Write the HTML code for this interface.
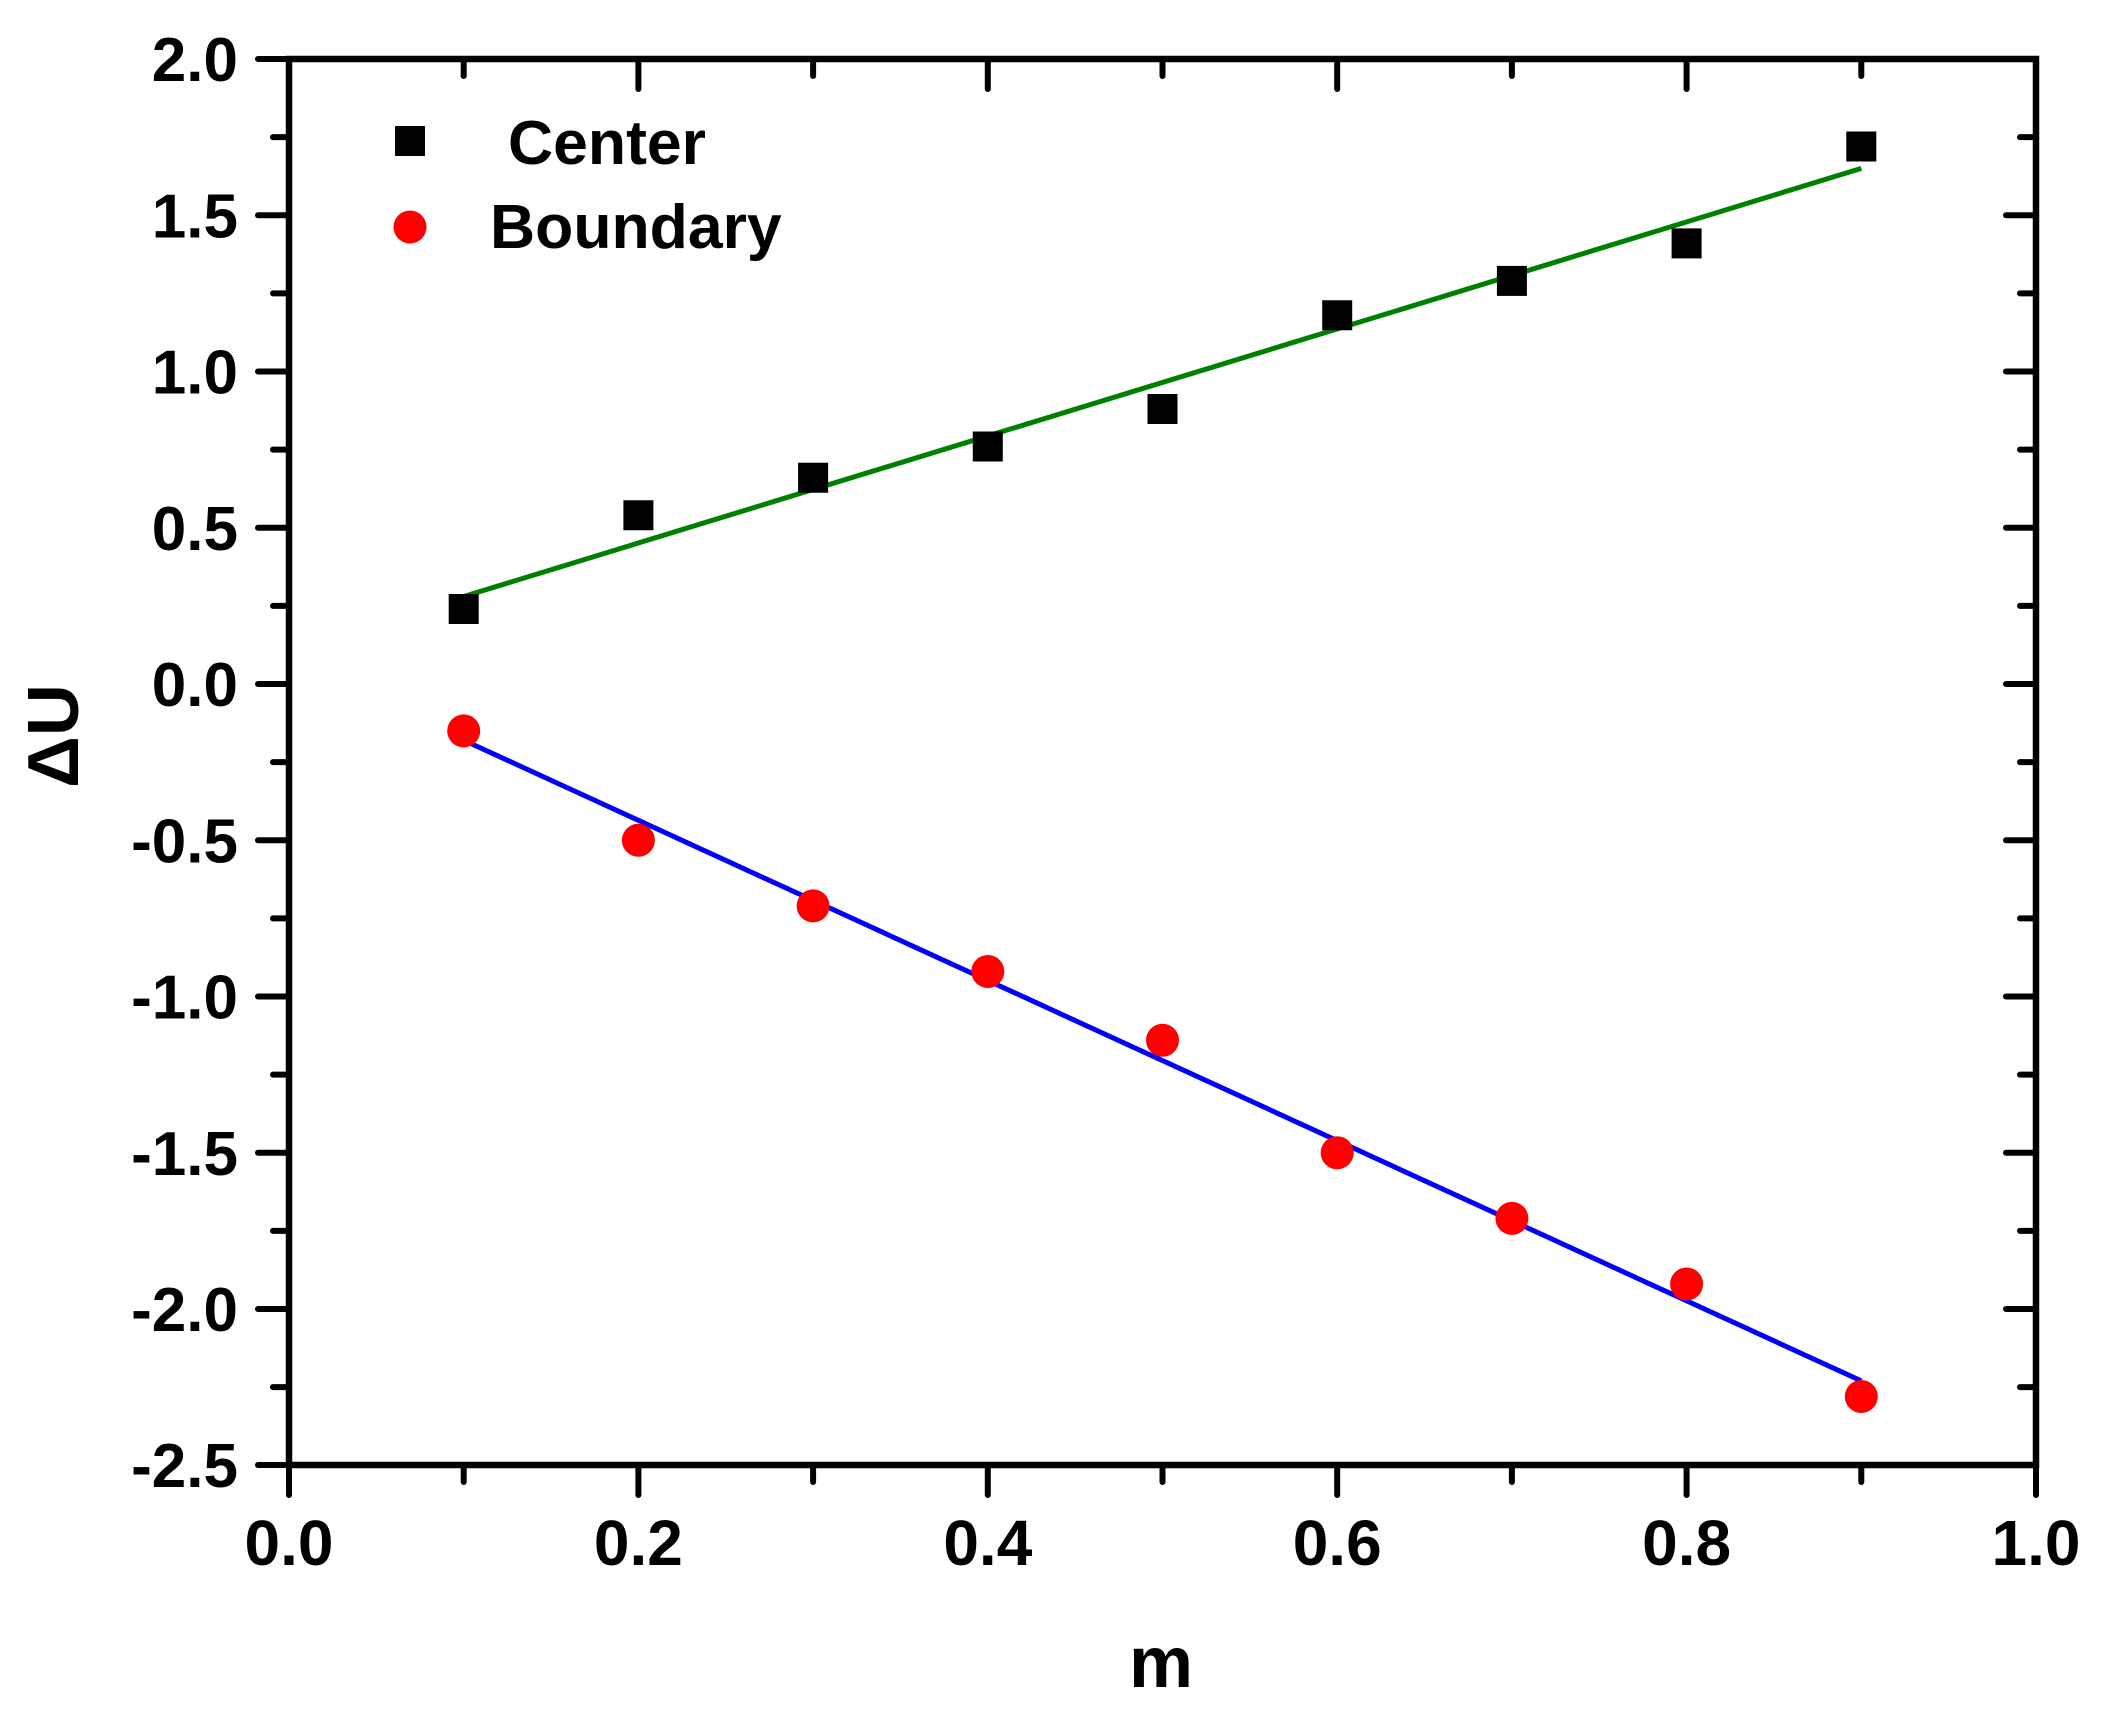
<!DOCTYPE html>
<html><head><meta charset="utf-8"><style>
html,body{margin:0;padding:0;background:#fff;}
svg{display:block;}
text{font-family:"Liberation Sans",Arial,sans-serif;font-weight:bold;fill:#000;}
</style></head><body>
<svg width="2122" height="1724" viewBox="0 0 2122 1724" xmlns="http://www.w3.org/2000/svg">
<rect width="2122" height="1724" fill="#fff"/>
<g stroke="#000" stroke-width="6" stroke-linecap="round">
<path d="M258 59H289M258 215.25H289M258 371.5H289M258 527.75H289M258 684H289M258 840.25H289M258 996.5H289M258 1152.75H289M258 1309H289M258 1465H289"/>
<path d="M273 137.1H289M273 293.4H289M273 449.6H289M273 605.9H289M273 762.1H289M273 918.4H289M273 1074.6H289M273 1230.9H289M273 1387.1H289"/>
<path d="M2006 215.25H2036M2006 371.5H2036M2006 527.75H2036M2006 684H2036M2006 840.25H2036M2006 996.5H2036M2006 1152.75H2036M2006 1309H2036"/>
<path d="M2020 137.1H2036M2020 293.4H2036M2020 449.6H2036M2020 605.9H2036M2020 762.1H2036M2020 918.4H2036M2020 1074.6H2036M2020 1230.9H2036M2020 1387.1H2036"/>
<path d="M289 1465V1495M638.4 1465V1495M987.8 1465V1495M1337.2 1465V1495M1686.6 1465V1495M2036 1465V1495"/>
<path d="M463.7 1465V1482M813.1 1465V1482M1162.5 1465V1482M1511.9 1465V1482M1861.3 1465V1482"/>
<path d="M638.4 59V89M987.8 59V89M1337.2 59V89M1686.6 59V89"/>
<path d="M463.7 59V76M813.1 59V76M1162.5 59V76M1511.9 59V76M1861.3 59V76"/>
</g>
<rect x="289" y="59" width="1747" height="1406" fill="none" stroke="#000" stroke-width="6.5"/>
<line x1="463.7" y1="596.5" x2="1861.3" y2="168.4" stroke="#008000" stroke-width="5"/>
<line x1="463.7" y1="740.25" x2="1861.3" y2="1380.9" stroke="#0000ff" stroke-width="5"/>
<g fill="#000">
<rect x="448.7" y="594" width="30" height="30"/>
<rect x="623.4" y="500.25" width="30" height="30"/>
<rect x="798.1" y="462.75" width="30" height="30"/>
<rect x="972.8" y="431.5" width="30" height="30"/>
<rect x="1147.5" y="394" width="30" height="30"/>
<rect x="1322.2" y="300.25" width="30" height="30"/>
<rect x="1496.9" y="265.9" width="30" height="30"/>
<rect x="1671.6" y="228.4" width="30" height="30"/>
<rect x="1846.3" y="131.5" width="30" height="30"/>
<rect x="395" y="126" width="30" height="30"/>
</g>
<g fill="#ff0000">
<circle cx="463.7" cy="730.9" r="16.5"/>
<circle cx="638.4" cy="840.25" r="16.5"/>
<circle cx="813.1" cy="905.9" r="16.5"/>
<circle cx="987.8" cy="971.5" r="16.5"/>
<circle cx="1162.5" cy="1040.25" r="16.5"/>
<circle cx="1337.2" cy="1152.75" r="16.5"/>
<circle cx="1511.9" cy="1218.4" r="16.5"/>
<circle cx="1686.6" cy="1284" r="16.5"/>
<circle cx="1861.3" cy="1396.5" r="16.5"/>
<circle cx="410" cy="227" r="16.5"/>
</g>
<g font-size="62" text-anchor="end">
<text x="238" y="81">2.0</text>
<text x="238" y="237.25">1.5</text>
<text x="238" y="393.5">1.0</text>
<text x="238" y="549.75">0.5</text>
<text x="238" y="706">0.0</text>
<text x="238" y="862.25">-0.5</text>
<text x="238" y="1018.5">-1.0</text>
<text x="238" y="1174.75">-1.5</text>
<text x="238" y="1331">-2.0</text>
<text x="238" y="1487">-2.5</text>
</g>
<g font-size="64" text-anchor="middle">
<text x="289" y="1565">0.0</text>
<text x="638.4" y="1565">0.2</text>
<text x="987.8" y="1565">0.4</text>
<text x="1337.2" y="1565">0.6</text>
<text x="1686.6" y="1565">0.8</text>
<text x="2036" y="1565">1.0</text>
</g>
<text x="1161" y="1687" font-size="72" text-anchor="middle">m</text>
<text transform="translate(78,736) rotate(-90)" font-size="72" text-anchor="middle">ΔU</text>
<text x="508" y="164" font-size="62.5">Center</text>
<text x="490" y="248" font-size="62.5">Boundary</text>
</svg>
</body></html>
